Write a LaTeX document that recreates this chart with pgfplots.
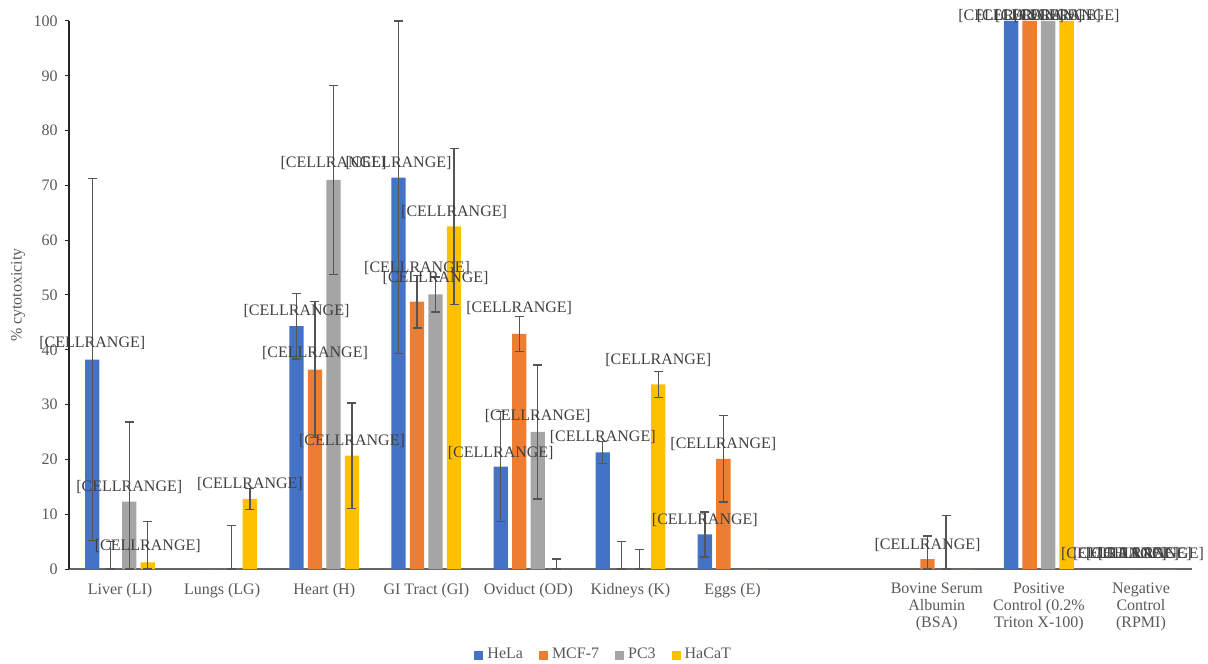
\documentclass[border=0pt]{standalone}
\usepackage{pgfplots}
\usepackage{pgfplotstable}
\pgfplotsset{compat=1.18}
\usepackage{fontspec}
\setmainfont{Liberation Serif}
\definecolor{cHeLa}{HTML}{4472C4}
\definecolor{cMCF}{HTML}{ED7D31}
\definecolor{cPC}{HTML}{A5A5A5}
\definecolor{cHaCaT}{HTML}{FFC000}
\definecolor{txt}{HTML}{595959}
\definecolor{lbl}{HTML}{404040}
\definecolor{errc}{HTML}{555555}

% x: category, y: value, em/ep: error minus/plus, ey: y where an error bar is drawn,
% ly, lx: position of the data label
\pgfplotstableread{
x  y     em    ep    ey    ly     lx
0  38.2  33.0  33.0  38.2  41.2   -0.2718
1  0     0     0     nan   nan    nan
2  44.3  6.0   6.0   44.3  47.1   1.7282
3  71.4  32.1  28.6  71.4  74.1   2.7282
4  18.7  10.0  10.0  18.7  21.2   3.7282
5  21.3  2.0   2.0   21.3  24.1   4.7282
6  6.3   4.1   4.1   6.3   8.9    5.7282
8  0     0     0     nan   nan    nan
9  100   0     0     nan   100.9  8.7282
10 0     0     0     nan   2.7    9.735
}\hela
\pgfplotstableread{
x  y     em    ep    ey    ly     lx
0  0     0     5.0   0     nan    nan
1  0     0     0     nan   nan    nan
2  36.4  12.4  12.4  36.4  39.4   1.9094
3  48.8  4.8   4.8   48.8  54.9   2.9094
4  42.9  3.2   3.2   42.9  47.6   3.9094
5  0     0     5.0   0     nan    nan
6  20.1  7.9   7.9   20.1  22.8   5.9094
8  1.8   1.8   4.2   1.8   4.4    7.9094
9  100   0     0     nan   100.9  8.9094
10 0     0     0     nan   2.7    9.853
}\mcf
\pgfplotstableread{
x  y     em    ep    ey    ly     lx
0  12.3  12.3  14.5  12.3  15.0   0.0906
1  0     0     7.9   0     nan    nan
2  71.0  17.2  17.2  71.0  74.1   2.0906
3  50.1  3.2   3.2   50.1  53.1   3.0906
4  25.0  12.2  12.2  25.0  27.9   4.0906
5  0     0     3.5   0     nan    nan
6  0     0     0     nan   nan    nan
8  0     0     9.8   0     nan    nan
9  100   0     0     nan   100.9  9.0906
10 0     0     0     nan   2.7    9.98
}\pcthree
\pgfplotstableread{
x  y     em    ep    ey    ly     lx
0  1.2   1.2   7.5   1.2   4.2    0.2718
1  12.8  1.9   1.9   12.8  15.5   1.2718
2  20.7  9.6   9.6   20.7  23.4   2.2718
3  62.5  14.2  14.2  62.5  65.1   3.2718
4  0     0     1.8   0     nan    nan
5  33.7  2.4   2.4   33.7  38.1   5.2718
6  0     0     0     nan   nan    nan
8  0     0     0     nan   nan    nan
9  100   0     0     nan   100.9  9.2718
10 0     0     0     nan   2.7    10.098
}\hacat

\pgfplotsset{
  mybar/.style={ybar, bar width=7.15pt, bar shift=0pt, draw=none,
    legend image code/.code={\fill[##1,draw=none] (0pt,-2.25pt) rectangle (4.5pt,2.25pt);}},
  myerr/.style={draw=none, mark=none, forget plot,
    error bars/y dir=both, error bars/y explicit,
    error bars/error mark=-,
    error bars/error bar style={draw=errc, line width=0.65pt},
    error bars/error mark options={draw=errc, line width=0.65pt, mark size=2.25pt, rotate=90}},
  mylbl/.style={draw=none, mark=none, forget plot,
    nodes near coords={\mbox{[CELLRANGE]}}, nodes near coords align=center,
    every node near coord/.append style={font=\fontsize{8}{9}\selectfont, text=lbl, inner sep=0pt}},
}

\begin{document}
\begin{tikzpicture}
\useasboundingbox (-34.5pt,-47pt) rectangle (569.5pt,284.5pt);
\begin{axis}[
  scale only axis, width=561.5pt, height=274pt,
  xmin=-0.5, xmax=10.5, ymin=0, ymax=100,
  clip=false,
  axis x line*=bottom, axis y line*=left,
  x axis line style={draw=black!60, line width=0.6pt},
  y axis line style={draw=black!85, line width=0.6pt},
  xtick={0,1,2,3,4,5,6,8,9,10},
  xticklabels={Liver (LI), Lungs (LG), Heart (H), GI Tract (GI), Oviduct (OD), Kidneys (K), Eggs (E), {Bovine Serum\\Albumin\\(BSA)}, {Positive\\Control (0.2\%\\Triton X-100)}, {Negative\\Control\\(RPMI)}},
  xtick style={draw=none},
  xticklabel style={font=\fontsize{8}{8.6}\selectfont, text=txt, align=center, anchor=north, inner sep=0pt, yshift=-4.8pt},
  ytick={0,10,...,100},
  ytick style={draw=black!85, line width=0.5pt},
  tick align=outside, major tick length=2pt,
  yticklabel style={font=\fontsize{8}{9}\selectfont, text=txt, anchor=east, inner sep=0pt, xshift=-3.5pt},
  /pgf/number format/assume math mode=true,
  ylabel={\% cytotoxicity},
  every axis y label/.style={at={(axis description cs:-0.0454,0.5)}, rotate=90, anchor=center, font=\fontsize{8}{9}\selectfont, text=txt},
  legend columns=4,
  legend style={at={(axis description cs:0.477,-0.157)}, anchor=center, draw=none, fill=none, font=\fontsize{8}{9}\selectfont, text=txt, /tikz/every even column/.append style={column sep=6pt}},
]
\addplot[mybar, fill=cHeLa] table[x expr=\thisrow{x}-0.2718, y=y] {\hela};
\addlegendentry{HeLa}
\addplot[mybar, fill=cMCF] table[x expr=\thisrow{x}-0.0906, y=y] {\mcf};
\addlegendentry{MCF-7}
\addplot[mybar, fill=cPC] table[x expr=\thisrow{x}+0.0906, y=y] {\pcthree};
\addlegendentry{PC3}
\addplot[mybar, fill=cHaCaT] table[x expr=\thisrow{x}+0.2718, y=y] {\hacat};
\addlegendentry{HaCaT}

\addplot[myerr] table[x expr=\thisrow{x}-0.2718, y=ey, y error plus=ep, y error minus=em] {\hela};
\addplot[myerr] table[x expr=\thisrow{x}-0.0906, y=ey, y error plus=ep, y error minus=em] {\mcf};
\addplot[myerr] table[x expr=\thisrow{x}+0.0906, y=ey, y error plus=ep, y error minus=em] {\pcthree};
\addplot[myerr] table[x expr=\thisrow{x}+0.2718, y=ey, y error plus=ep, y error minus=em] {\hacat};

\addplot[mylbl] table[x=lx, y=ly] {\hela};
\addplot[mylbl] table[x=lx, y=ly] {\mcf};
\addplot[mylbl] table[x=lx, y=ly] {\pcthree};
\addplot[mylbl] table[x=lx, y=ly] {\hacat};
\end{axis}
\end{tikzpicture}
\end{document}
